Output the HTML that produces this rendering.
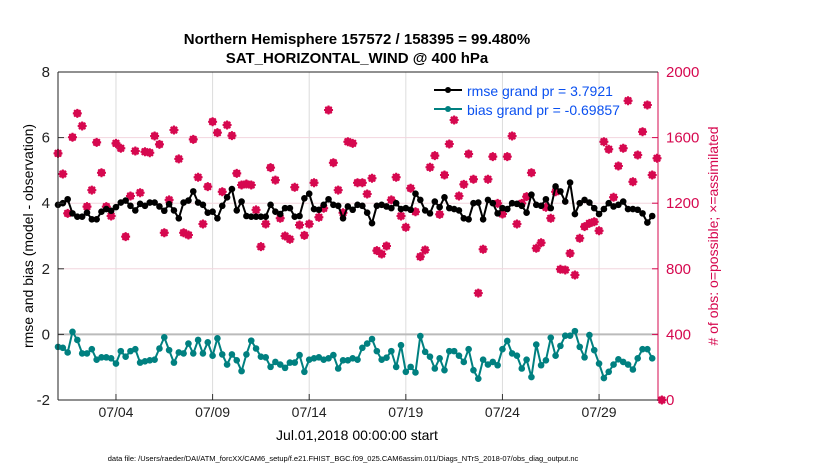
<!DOCTYPE html>
<html><head><meta charset="utf-8"><style>
body{margin:0;background:#fff;}
svg text{font-family:"Liberation Sans",sans-serif;}
</style></head><body>
<svg id="chart" width="830" height="470" viewBox="0 0 830 470" xmlns="http://www.w3.org/2000/svg">
<rect width="830" height="470" fill="#fff"/>
<g id="grid"></g>
<g id="series"></g>
<g id="axes"></g>
<text x="357" y="44" text-anchor="middle" font-size="15" font-weight="bold">Northern Hemisphere 157572 / 158395 = 99.480%</text>
<text x="357" y="63" text-anchor="middle" font-size="15" font-weight="bold">SAT_HORIZONTAL_WIND @ 400 hPa</text>
<text transform="translate(33,236) rotate(-90)" text-anchor="middle" font-size="14">rmse and bias (model - observation)</text>
<text transform="translate(718,236) rotate(-90)" text-anchor="middle" font-size="14" fill="#d6084f">#  of obs: o=possible; ×=assimilated</text>
<text x="357" y="440" text-anchor="middle" font-size="14">Jul.01,2018 00:00:00 start</text>
<text x="343" y="461" text-anchor="middle" font-size="7.5">data file: /Users/raeder/DAI/ATM_forcXX/CAM6_setup/f.e21.FHIST_BGC.f09_025.CAM6assim.011/Diags_NTrS_2018-07/obs_diag_output.nc</text>
<g>
<line x1="434" y1="90" x2="462" y2="90" stroke="#000" stroke-width="2"/><circle cx="448" cy="90" r="3" fill="#000"/>
<text x="467" y="96" font-size="14" fill="#0a50f0">rmse grand pr = 3.7921</text>
<line x1="434" y1="109" x2="462" y2="109" stroke="#008080" stroke-width="2"/><circle cx="448" cy="109" r="3" fill="#008080"/>
<text x="467" y="115" font-size="14" fill="#0a50f0">bias grand pr = -0.69857</text>
</g>
</svg>
<script>
const rmse=[3.95,4.0,4.12,3.69,3.59,3.59,3.71,3.51,3.51,3.74,3.82,3.77,3.88,4.02,4.08,3.92,3.78,3.98,3.92,4.02,4.02,3.9,3.77,3.97,3.78,3.54,4.02,4.08,4.36,4.02,3.95,3.71,3.74,3.54,3.92,4.18,4.43,3.78,4.05,3.61,3.59,3.59,3.59,3.59,3.95,3.74,3.67,3.85,3.85,3.59,3.61,4.15,4.29,3.82,3.8,3.95,4.12,3.95,3.92,3.54,3.9,3.8,3.95,
3.92,3.71,3.39,3.92,3.95,3.9,3.85,4.0,3.82,3.85,3.8,4.29,4.1,3.78,3.69,4.05,3.88,4.18,3.85,3.82,3.78,3.54,3.51,4.0,4.02,3.51,4.1,4.0,3.69,3.85,3.82,4.0,3.98,3.92,3.71,4.26,3.95,3.92,4.12,3.85,4.51,4.36,4.05,4.63,3.67,4.0,4.1,4.02,3.85,3.67,3.82,4.0,3.9,3.95,4.05,3.82,3.82,3.8,3.69,3.41,3.61];
const bias=[-0.38,-0.41,-0.55,0.08,-0.17,-0.58,-0.58,-0.45,-0.77,-0.70,-0.70,-0.73,-0.89,-0.51,-0.68,-0.51,-0.45,-0.86,-0.82,-0.79,-0.77,-0.43,-0.09,-0.48,-0.86,-0.55,-0.58,-0.28,-0.58,-0.17,-0.58,-0.24,-0.65,-0.12,-0.61,-0.92,-0.61,-0.79,-1.12,-0.61,-0.19,-0.43,-0.68,-0.70,-0.99,-0.84,-0.92,-1.02,-0.86,-0.86,-0.63,-1.14,-0.77,-0.73,-0.70,-0.77,-0.73,-0.63,-1.04,-0.79,-0.79,-0.73,
-0.77,-0.41,-0.28,-0.14,-0.51,-0.77,-0.71,-0.51,-0.99,-0.33,-1.14,-0.99,-1.16,-0.05,-0.53,-0.68,-1.04,-0.73,-1.09,-0.51,-0.51,-0.65,-0.84,-0.45,-1.09,-1.35,-0.77,-0.92,-0.84,-0.94,-0.45,-0.20,-0.58,-0.65,-1.04,-0.77,-1.30,-0.31,-0.94,-0.79,-0.10,-0.65,-0.35,-0.04,-0.04,0.10,-0.38,-0.70,-0.02,-0.48,-0.89,-1.33,-1.14,-0.92,-0.76,-0.84,-0.92,-1.07,-0.73,-0.45,-0.45,-0.73];
const nobs=[1504,1378,1138,1602,1748,1671,1179,1280,1571,1386,1179,1122,1565,1535,996,1244,1518,1264,1514,1508,1610,1559,1020,1220,1646,1470,1020,1006,1589,1358,1073,1301,1697,1630,1270,1677,1612,1382,1311,1317,1311,1159,935,1073,1417,1341,1108,1000,980,1297,1067,1004,1073,1325,1114,1169,1768,1447,1280,1142,1575,1565,1325,
1325,1256,1352,911,890,939,1220,1358,1122,1053,1291,1148,874,915,1419,1490,1132,1372,1561,1707,1244,1315,1500,1346,652,919,1346,1484,1199,1134,1484,1610,1073,1199,1240,1386,925,959,1175,1108,1270,797,793,894,762,986,1057,1077,1087,1032,1575,1529,1236,1427,1535,1825,1331,1494,1636,1799,1372,1474,0];
const xTickLabels=["07/04","07/09","07/14","07/19","07/24","07/29"];
const xTickDays=[3,8,13,18,23,28];
const leftTicks=[-2,0,2,4,6,8];
const rightTicks=[0,400,800,1200,1600,2000];
const stepDays=0.25;

const X0=58,X1=658,Y0=72,Y1=400,DAYS=31.05;
const NS='http://www.w3.org/2000/svg';
function xs(d){return X0+d/DAYS*(X1-X0);}
function yl(v){return Y1-(v+2)/10*(Y1-Y0);}
function yr(v){return Y1-v/2000*(Y1-Y0);}
function mk(tag,attrs,parent){const e=document.createElementNS(NS,tag);for(const k in attrs)e.setAttribute(k,attrs[k]);parent.appendChild(e);return e;}
const grid=document.getElementById('grid'),ser=document.getElementById('series'),ax=document.getElementById('axes');
xTickDays.forEach((d,i)=>{
 const g=mk('line',{x1:xs(d),x2:xs(d),y1:Y0,y2:Y1,stroke:'#dcdcdc','stroke-width':1},grid);
 
 
 const t=mk('line',{x1:xs(d),x2:xs(d),y1:Y1,y2:Y1-6,stroke:'#333'},ax);
 
 
 const l=mk('text',{x:xs(d),y:417,'text-anchor':'middle','font-size':14,fill:'#222'},ax);
 l.textContent=xTickLabels[i];
 
 
});
rightTicks.forEach(v=>{
 if(v>0&&v<2000){const g=mk('line',{x1:X0,x2:X1,y1:yr(v),y2:yr(v),stroke:'#f2d5de','stroke-width':1},grid);
 
 }
 const t=mk('line',{x1:X1,x2:X1-6,y1:yr(v),y2:yr(v),stroke:'#d6084f'},ax);
 
 
 const l=mk('text',{x:X1+8,y:yr(v)+5,'font-size':15,fill:'#d6084f'},ax);
 l.textContent=v;
 
 
});
leftTicks.forEach(v=>{
 const t=mk('line',{x1:X0,x2:X0+6,y1:yl(v),y2:yl(v),stroke:'#333'},ax);
 
 
 const l=mk('text',{x:X0-8,y:yl(v)+5,'text-anchor':'end','font-size':15,fill:'#222'},ax);
 l.textContent=v;
 
 
});
const zl=mk('line',{x1:X0,x2:X1,y1:yl(0),y2:yl(0),stroke:'#bbb','stroke-width':2},grid);


const la=mk('line',{x1:X0,x2:X0,y1:Y0,y2:Y1,stroke:'#222'},ax);


const ra=mk('line',{x1:X1,x2:X1,y1:Y0,y2:Y1,stroke:'#d6084f'},ax);


const ta=mk('line',{x1:X0,x2:X1,y1:Y0,y2:Y0,stroke:'#222'},ax);


const ba=mk('line',{x1:X0,x2:X1,y1:Y1,y2:Y1,stroke:'#222'},ax);


// obs counts
nobs.forEach((v,i)=>{
 const cx=xs(i*stepDays),cy=yr(v);
 const g=mk('g',{},ser);
 
 
 mk('circle',{cx:cx,cy:cy,r:3.2,fill:'none',stroke:'#d6084f','stroke-width':1.3},g);
 mk('path',{d:`M${cx-4.5} ${cy}H${cx+4.5}M${cx} ${cy-4.5}V${cy+4.5}M${cx-3.2} ${cy-3.2}L${cx+3.2} ${cy+3.2}M${cx-3.2} ${cy+3.2}L${cx+3.2} ${cy-3.2}`,stroke:'#d6084f','stroke-width':2},g);
});
function line(data,color,name){
 const pts=data.map((v,i)=>xs(i*stepDays).toFixed(1)+','+yl(v).toFixed(1)).join(' ');
 const p=mk('polyline',{points:pts,fill:'none',stroke:color,'stroke-width':2},ser);
 
 
 data.forEach((v,i)=>{
  const c=mk('circle',{cx:xs(i*stepDays),cy:yl(v),r:3.3,fill:color},ser);
  
  
 });
}
line(rmse,'#000','rmse');
line(bias,'#008080','bias');
</script>
</body></html>
